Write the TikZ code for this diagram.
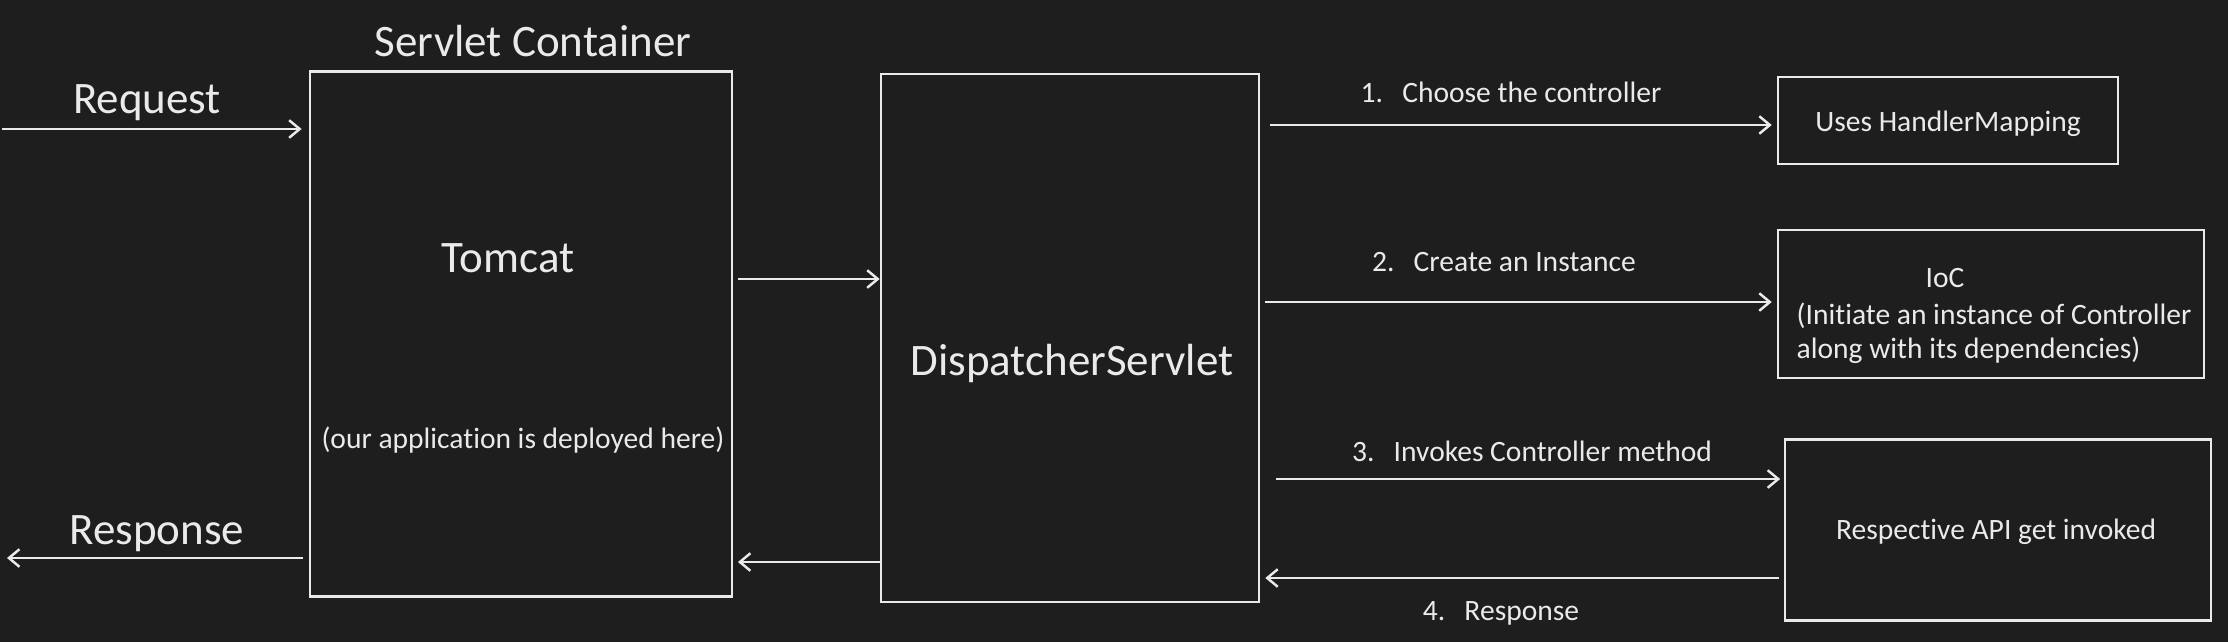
\documentclass[tikz,border=0pt]{standalone}
\usepackage{fontspec}
\setmainfont{Carlito}[Ligatures=NoCommon]
\usetikzlibrary{arrows.meta}
\definecolor{bgdark}{HTML}{1E1E1E}
\definecolor{chalk}{HTML}{EAEAEA}

\begin{document}
\begin{tikzpicture}[x=0.01cm, y=-0.01cm,
  box/.style={draw=chalk, line width=0.7pt, inner sep=0pt},
  big/.style={text=chalk, font=\fontsize{12.8}{15}\selectfont, anchor=base, inner sep=0pt},
  small/.style={text=chalk, font=\fontsize{8.4}{9.6}\selectfont, anchor=base, inner sep=0pt},
  flow/.style={draw=chalk, line width=0.7pt, -{Straight Barb[length=3pt,width=5pt]}}]
\fill[bgdark] (0,0) rectangle (2228,642);
\useasboundingbox (0,0) rectangle (2228,642);

\node [box, minimum width=4.22cm, minimum height=5.25cm] (tomcat) at (521,334) {};
\node [box, minimum width=3.78cm, minimum height=5.28cm] (disp) at (1070,338) {};
\node [box, minimum width=3.40cm, minimum height=0.87cm] (handler) at (1948,120.5) {};
\node [box, minimum width=4.26cm, minimum height=1.48cm] (ioc) at (1991,304) {};
\node [box, minimum width=4.26cm, minimum height=1.81cm] (api) at (1998,530) {};

\node [big] (container) at (533,56) {Servlet Container};
\node [big] (request) at (147,113) {Request};
\node [big] (response) at (157,544) {Response};
\node [big] (tomcat text) at (508,272) {Tomcat};
\node [small] (deployed) at (523,448) {(our application is deployed here)};
\node [big] (disp text) at (1072,375) {DispatcherServlet};
\node [small] (handler text) at (1948,131) {Uses HandlerMapping};
\node [small] (ioc text) at (1945,287) {IoC};
\node [small, anchor=base west, align=left] (ioc note) at (1796,358) {(Initiate an instance of Controller\\along with its dependencies)};
\node [small] (api text) at (1996,539) {Respective API get invoked};

\node [small] (choose) at (1511,102) {1.\hspace{0.65em}Choose the controller};
\node [small] (create) at (1504,271) {2.\hspace{0.65em}Create an Instance};
\node [small] (invoke) at (1532,461) {3.\hspace{0.65em}Invokes Controller method};
\node [small] (reply) at (1501,620) {4.\hspace{0.65em}Response};

\coordinate (client in) at (2,129);
\coordinate (client out) at (7,558);
\draw [flow, shorten >=2pt] (client in) -- (tomcat.west |- client in);
\draw [flow, shorten <=1.5pt] (tomcat.west |- client out) -- (client out);
\draw [flow, shorten <=1.3pt] (tomcat.east |- 0,279) -- (disp.west |- 0,279);
\draw [flow, shorten >=1.3pt] (disp.west |- 0,562) -- (tomcat.east |- 0,562);
\draw [flow, shorten <=2.8pt, shorten >=1.4pt] (disp.east |- 0,125) -- (handler.west |- 0,125);
\draw [flow, shorten <=1.3pt, shorten >=1.4pt] (disp.east |- 0,302) -- (ioc.west |- 0,302);
\draw [flow, shorten <=4.5pt, shorten >=1pt] (disp.east |- 0,479) -- (api.west |- 0,479);
\draw [flow, shorten <=1.4pt, shorten >=1.4pt] (api.west |- 0,578) -- (disp.east |- 0,578);
\end{tikzpicture}
\end{document}
